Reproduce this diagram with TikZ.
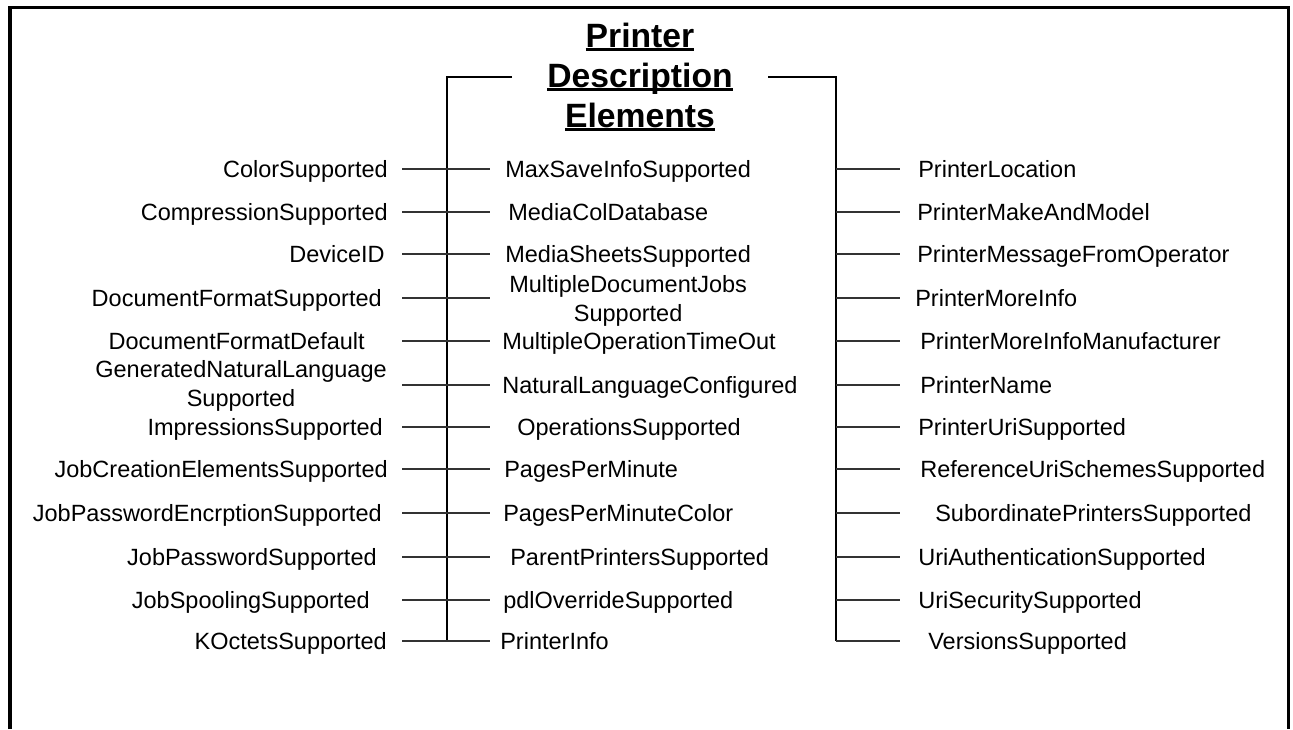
\documentclass[tikz,border=0pt]{standalone}
\usepackage{fontspec}
\setmainfont{Liberation Sans}
\usepackage{tikz}
\usetikzlibrary{positioning}

% underlined title line
\newcommand\ttlline[1]{\setbox0\hbox{#1}\rlap{\rule[-4pt]{\wd0}{2.8pt}}\box0}

\begin{document}
\begin{tikzpicture}[x=1pt,y=-1pt,semithick]
        \tikzstyle{item}=[font=\fontsize{23.5}{29}\selectfont,inner sep=0pt,text height=17pt,text depth=0pt]
        \tikzstyle{pair}=[font=\fontsize{23.5}{29}\selectfont,inner sep=0pt,align=center]
        \tikzstyle{bus}=[line width=2pt,black]
        \tikzstyle{link}=[line width=1.1pt,black!80]

        \useasboundingbox (0,0) rectangle (1293,729);
        \draw[line width=3.3pt] (10,729) -- (10,7.7) -- (1288.7,7.7) -- (1288.7,729);

        \node[font=\fontsize{33.7}{40}\selectfont\bfseries,align=center,inner xsep=35pt,inner ysep=0pt]
            (title) at (640,77) {\ttlline{Printer}\\\ttlline{Description}\\\ttlline{Elements}};

        \coordinate (lbus) at (447,641);
        \coordinate (rbus) at (836,641);
        \coordinate (lx) at (402,0);
        \coordinate (mx) at (490,0);
        \coordinate (rx) at (900,0);

        % left column
        \node[item,anchor=east] (color) at (388,169) {ColorSupported};
        \node[item,anchor=east] (compr) at (388,212) {CompressionSupported};
        \node[item,anchor=east] (devid) at (385,254) {DeviceID};
        \node[item,anchor=east] (docfmt) at (382,298) {DocumentFormatSupported};
        \node[item,anchor=east] (docdef) at (365,341) {DocumentFormatDefault};
        \node[pair,anchor=east] (genlang) at (387,385.5) {GeneratedNaturalLanguage\\Supported};
        \node[item,anchor=east] (impr) at (383,427) {ImpressionsSupported};
        \node[item,anchor=east] (jobcre) at (388,469) {JobCreationElementsSupported};
        \node[item,anchor=east] (jobenc) at (382,513) {JobPasswordEncrptionSupported};
        \node[item,anchor=east] (jobpwd) at (377,557) {JobPasswordSupported};
        \node[item,anchor=east] (jobspl) at (370,600) {JobSpoolingSupported};
        \node[item,anchor=east] (koct) at (387,641) {KOctetsSupported};

        % middle column
        \node[item,anchor=west] (maxsave) at (505,169) {MaxSaveInfoSupported};
        \node[item,anchor=west] (mediadb) at (508,212) {MediaColDatabase};
        \node[item,anchor=west] (sheets) at (505,254) {MediaSheetsSupported};
        \node[pair,anchor=west] (multidoc) at (509,300.5) {MultipleDocumentJobs\\Supported};
        \node[item,anchor=west] (multiop) at (502,341) {MultipleOperationTimeOut};
        \node[item,anchor=west] (natlang) at (502,385) {NaturalLanguageConfigured};
        \node[item,anchor=west] (ops) at (517,427) {OperationsSupported};
        \node[item,anchor=west] (ppm) at (504,469) {PagesPerMinute};
        \node[item,anchor=west] (ppmc) at (503,513) {PagesPerMinuteColor};
        \node[item,anchor=west] (parent) at (510,557) {ParentPrintersSupported};
        \node[item,anchor=west] (pdl) at (503,600) {pdlOverrideSupported};
        \node[item,anchor=west] (pinfo) at (500,641) {PrinterInfo};

        % right column
        \node[item,anchor=west] (ploc) at (918,169) {PrinterLocation};
        \node[item,anchor=west] (pmake) at (917,212) {PrinterMakeAndModel};
        \node[item,anchor=west] (pmsg) at (917,254) {PrinterMessageFromOperator};
        \node[item,anchor=west] (pmore) at (915,298) {PrinterMoreInfo};
        \node[item,anchor=west] (pmanu) at (920,341) {PrinterMoreInfoManufacturer};
        \node[item,anchor=west] (pname) at (920,385) {PrinterName};
        \node[item,anchor=west] (puri) at (918,427) {PrinterUriSupported};
        \node[item,anchor=west] (refuri) at (920,469) {ReferenceUriSchemesSupported};
        \node[item,anchor=west] (subord) at (935,513) {SubordinatePrintersSupported};
        \node[item,anchor=west] (uriauth) at (918,557) {UriAuthenticationSupported};
        \node[item,anchor=west] (urisec) at (918,600) {UriSecuritySupported};
        \node[item,anchor=west] (vers) at (928,641) {VersionsSupported};

        % buses
        \draw[bus] (title.west) -| (lbus);
        \draw[bus] (title.east) -| (rbus);

        % left links
        \draw[link] (color -| lx) -- (color -| mx);
        \draw[link] (compr -| lx) -- (compr -| mx);
        \draw[link] (devid -| lx) -- (devid -| mx);
        \draw[link] (docfmt -| lx) -- (docfmt -| mx);
        \draw[link] (docdef -| lx) -- (docdef -| mx);
        \draw[link] (natlang -| lx) -- (natlang -| mx);
        \draw[link] (impr -| lx) -- (impr -| mx);
        \draw[link] (jobcre -| lx) -- (jobcre -| mx);
        \draw[link] (jobenc -| lx) -- (jobenc -| mx);
        \draw[link] (jobpwd -| lx) -- (jobpwd -| mx);
        \draw[link] (jobspl -| lx) -- (jobspl -| mx);
        \draw[link] (koct -| lx) -- (koct -| mx);

        % right links
        \draw[link] (ploc -| rbus) -- (ploc -| rx);
        \draw[link] (pmake -| rbus) -- (pmake -| rx);
        \draw[link] (pmsg -| rbus) -- (pmsg -| rx);
        \draw[link] (pmore -| rbus) -- (pmore -| rx);
        \draw[link] (pmanu -| rbus) -- (pmanu -| rx);
        \draw[link] (pname -| rbus) -- (pname -| rx);
        \draw[link] (puri -| rbus) -- (puri -| rx);
        \draw[link] (refuri -| rbus) -- (refuri -| rx);
        \draw[link] (subord -| rbus) -- (subord -| rx);
        \draw[link] (uriauth -| rbus) -- (uriauth -| rx);
        \draw[link] (urisec -| rbus) -- (urisec -| rx);
        \draw[link] (vers -| rbus) -- (vers -| rx);
\end{tikzpicture}
\end{document}
